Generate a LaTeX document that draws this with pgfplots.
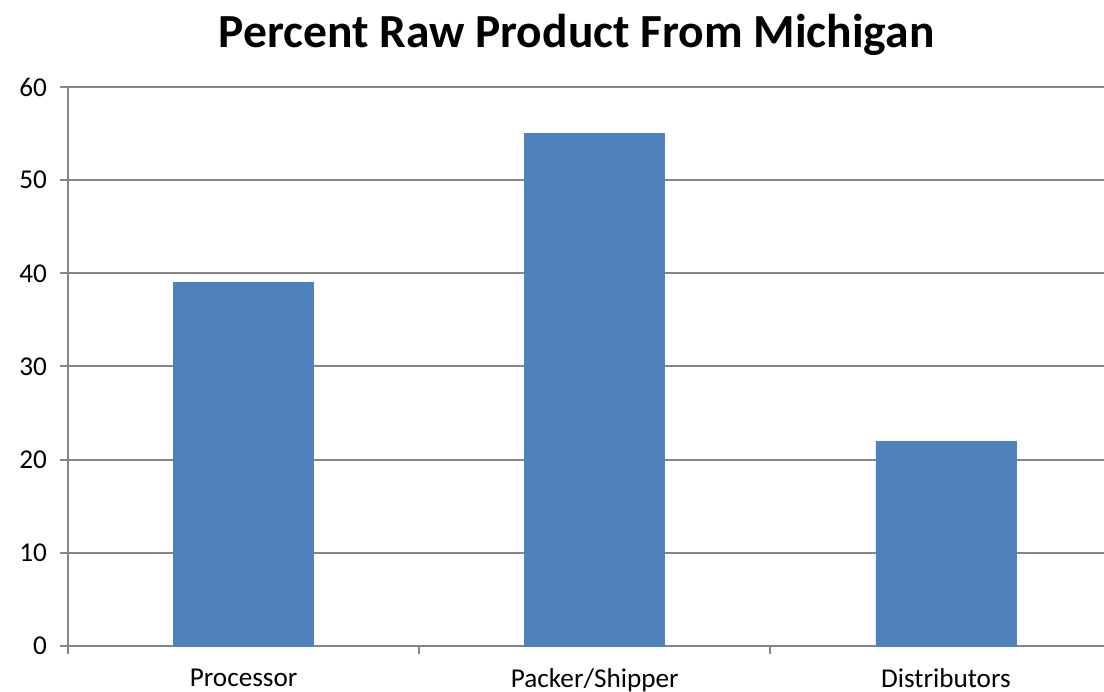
\documentclass[border=0pt]{standalone}
\usepackage{pgfplots}
\pgfplotsset{compat=1.18}
\usepackage{fontspec}
\setmainfont{Carlito}
\usetikzlibrary{calc}
\definecolor{barblue}{HTML}{4F81BD}
\definecolor{axgray}{HTML}{868686}
\begin{document}
\begin{tikzpicture}
\begin{axis}[
  scale only axis,
  width=518pt, height=279.5pt,
  xmin=-0.5, xmax=2.45,
  ymin=0, ymax=60,
  ytick={0,10,20,30,40,50,60},
  xtick={0,1,2},
  xticklabels={Processor,Packer/Shipper,Distributors},
  minor xtick={-0.5,0.5,1.5,2.5},
  axis lines*=left,
  axis line style={axgray, line width=1pt},
  ymajorgrids,
  grid style={axgray, line width=1pt},
  tick align=outside,
  major tick length=4pt,
  minor tick length=4pt,
  xtick style={/pgfplots/major tick length=0pt},
  every tick/.style={axgray, line width=1pt},
  tick label style={font=\fontsize{13.6}{16}\selectfont, text=black},
  yticklabel style={xshift=-3pt},
  xticklabel style={yshift=-4pt},
  /pgf/number format/assume math mode=true,
  title={\fontsize{23.75}{28}\selectfont\bfseries Percent Raw Product From Michigan},
  title style={anchor=base, at={(0.491,1)}, yshift=13.5pt},
  clip=false,
]
\addplot[ybar, bar width=70pt, fill=barblue, draw=barblue] coordinates {(0,39) (1,55) (2,22)};
\end{axis}
\pgfresetboundingbox
\path[use as bounding box] ($(current axis.south west)+(-34pt,-23pt)$) rectangle ($(current axis.north east)+(0,43.5pt)$);
\end{tikzpicture}
\end{document}
